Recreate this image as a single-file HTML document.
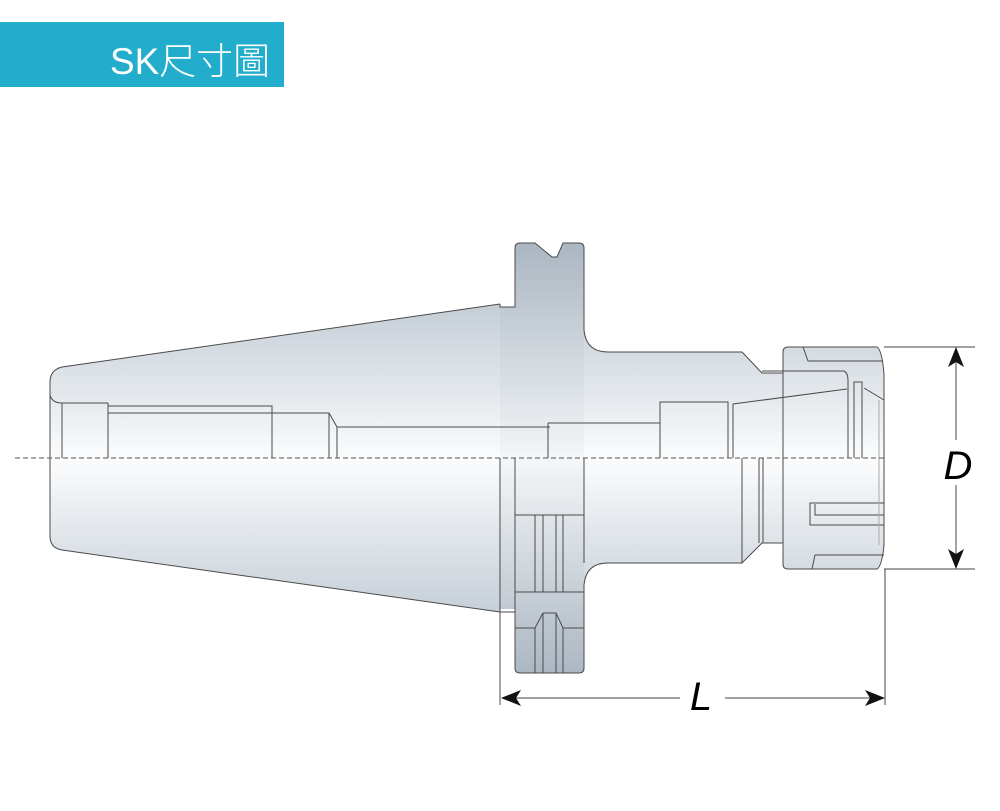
<!DOCTYPE html>
<html><head><meta charset="utf-8"><style>
html,body{margin:0;padding:0;background:#fff;width:1000px;height:811px;overflow:hidden}
svg{display:block}
</style></head><body>
<svg width="1000" height="811" viewBox="0 0 1000 811" xmlns="http://www.w3.org/2000/svg">
<defs>
<linearGradient id="g" gradientUnits="userSpaceOnUse" x1="0" y1="300" x2="0" y2="620">
<stop offset="0" stop-color="#c3ccd5"/><stop offset="0.5" stop-color="#fbfcfd"/><stop offset="1" stop-color="#c3ccd5"/>
</linearGradient>
<linearGradient id="f" gradientUnits="userSpaceOnUse" x1="0" y1="240" x2="0" y2="680">
<stop offset="0" stop-color="#a9b5c0"/><stop offset="0.5" stop-color="#f4f6f8"/><stop offset="1" stop-color="#a9b5c0"/>
</linearGradient>
</defs>
<rect x="0" y="22" width="284" height="65" fill="#22adcc"/>
<text x="110" y="74" fill="#fff" font-family="Liberation Sans, Noto Sans CJK TC, sans-serif" font-size="37" font-weight="300" textLength="160" lengthAdjust="spacingAndGlyphs">SK尺寸圖</text>

<!-- fills -->
<path d="M500,304 L62,367 Q50,370 50,382 L50,536 Q50,548 62,550 L500,612 Z" fill="url(#g)"/>
<path d="M500,307 L515,307 L515,248 Q515,243 520,243 L535,243 L552,257 L557,257 L563,243 L579,243 Q584,243 584,248 L584,330 Q586,352 608,352 L742,352 L762,373 L783,373 L783,543 L762,543 L742,563 L608,563 Q586,563 584,585 L584,668 Q584,673 579,673 L520,673 Q515,673 515,668 L515,609 L500,609 Z" fill="url(#f)"/>
<path d="M584,330 Q586,352 608,352 L742,352 L762,373 L783,373 L783,543 L762,543 L742,563 L608,563 Q586,563 584,585 Z" fill="url(#g)"/>
<path d="M783,352 Q783,347 788,347 L877,347 Q882,350 884,374 L884,545 Q882,566 877,569 L788,569 Q783,569 783,564 Z" fill="url(#g)" stroke="#4a4a4a"/>

<g stroke="#4a4a4a" stroke-width="1" fill="none">
<path d="M500,304 L62,367 Q50,370 50,382 L50,536 Q50,548 62,550 L500,612"/>
<path d="M500,304 L500,307 L515,307 L515,248 Q515,243 520,243 L535,243 L552,257 L557,257 L563,243 L579,243 Q584,243 584,248 L584,330 Q586,352 608,352 L742,352 L762,373 L783,373"/>
<path d="M783,543 L762,543 L742,563 L608,563 Q586,563 584,585 L584,668 Q584,673 579,673 L520,673 Q515,673 515,668 L515,458"/>
<path d="M500,612 L515,612"/>
<line x1="500" y1="458" x2="500" y2="705"/>
<line x1="584" y1="458" x2="584" y2="563"/>
<!-- upper bore -->
<path d="M50,395 Q52,403 62,403 L108,403 M62,403 L62,458 M108,403 L108,458 M108,406 L272,406 L272,458 M108,413 L329,413 L337,427 L337,458 M329,413 L329,458 M337,427 L550,427 M548,423 L660,423 M548,423 L548,458"/>
<path d="M660,458 L660,402 L728,402 L728,458 M733,458 L733,404 L847,389 M762,371 L844,371 Q848,373 848,380 L848,458 M854,458 L854,382 L862,382 L862,458 M864,388 L884,400"/>
<path d="M803,347 L808,361 L883,361"/>
<!-- lower -->
<path d="M742,458 L742,563 M759,458 L759,543 M763,458 L763,543"/>
<path d="M515,515 L584,515 M515,592 L584,592 M515,628 L535,628 M563,628 L584,628 M535,515 L535,592 M543,515 L543,592 M556,515 L556,592 M563,515 L563,592"/>
<path d="M535,673 L535,628 L543,613 L556,613 L563,628 L563,673 M543,613 L543,673 M556,613 L556,673"/>
<path d="M884,503 L810,503 L810,525 L884,525 M815,504 L815,515 L884,515"/>
<path d="M812,569 L815,555 L884,555"/>
<line x1="879" y1="400" x2="879" y2="545" stroke="#aaa"/>
</g>
<!-- centerline -->
<line x1="15" y1="458" x2="884" y2="458" stroke="#555" stroke-width="1" stroke-dasharray="5,3"/>
<!-- dimensions -->
<g stroke="#444" stroke-width="1" fill="none">
<line x1="884" y1="347" x2="975" y2="347"/>
<line x1="884" y1="569" x2="975" y2="569"/>
<line x1="885" y1="569" x2="885" y2="705"/>
<line x1="956" y1="360" x2="956" y2="440"/>
<line x1="956" y1="485" x2="956" y2="556"/>
<line x1="512" y1="698" x2="680" y2="698"/>
<line x1="725" y1="698" x2="872" y2="698"/>
</g>
<g fill="#111">
<path d="M956,347 L964,367 L956,362 L948,367 Z"/>
<path d="M956,569 L964,549 L956,554 L948,549 Z"/>
<path d="M501,698 L521,690 L516,698 L521,706 Z"/>
<path d="M885,698 L865,690 L870,698 L865,706 Z"/>
</g>
<text x="958" y="479" text-anchor="middle" font-family="Liberation Sans, sans-serif" font-size="40" font-style="italic">D</text>
<text x="701" y="710" text-anchor="middle" font-family="Liberation Sans, sans-serif" font-size="40" font-style="italic">L</text>
</svg>
</body></html>
